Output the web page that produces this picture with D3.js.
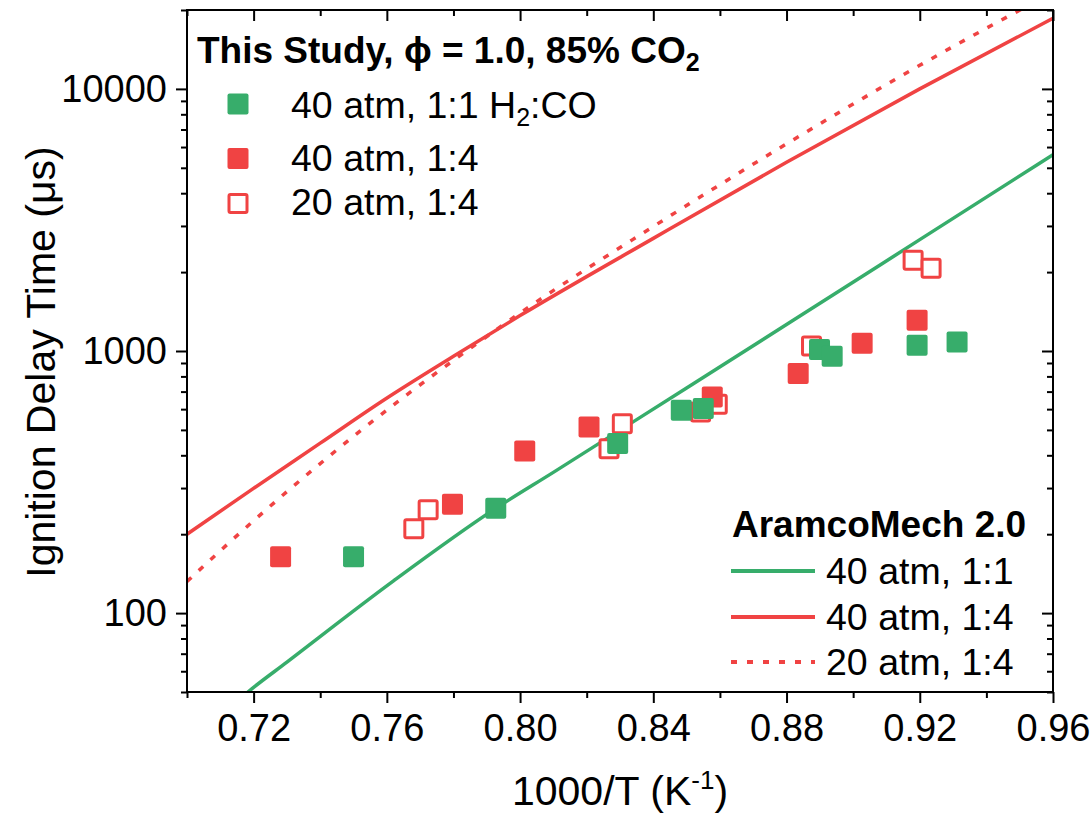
<!DOCTYPE html>
<html>
<head>
<meta charset="utf-8">
<script src="https://cdn.jsdelivr.net/npm/d3@7"></script>
<style>
  body { margin: 0; background: #fff; }
  svg { display: block; }
  text { font-family: "Liberation Sans", Arial, sans-serif; fill: #000; }
</style>
</head>
<body>
<svg id="chart" width="1092" height="817"></svg>
<script>
// ---------- data ----------
const xTicksMajor = [0.72, 0.76, 0.80, 0.84, 0.88, 0.92, 0.96];
const xTicksMinor = [0.70, 0.74, 0.78, 0.82, 0.86, 0.90, 0.94];
const yTicksMajor = [100, 1000, 10000];
const yTicksMinor = [50, 60, 70, 80, 90, 200, 300, 400, 500, 600, 700, 800, 900,
                     2000, 3000, 4000, 5000, 6000, 7000, 8000, 9000, 20000];

// experiments: 40 atm, 1:1 H2:CO
const green40X = [0.7500, 0.7927, 0.8293, 0.8484, 0.8550, 0.8899, 0.8937, 0.9192, 0.9312];
const green40Y = [164, 251, 444, 594, 603, 1014, 955, 1052, 1082];
// experiments: 40 atm, 1:4
const red40X = [0.7281, 0.7797, 0.8014, 0.8207, 0.8577, 0.8835, 0.9027, 0.9192];
const red40Y = [164, 260, 415, 513, 667, 820, 1071, 1309];
// experiments: 20 atm, 1:4 (open)
const red20X = [0.7681, 0.7724, 0.8267, 0.8307, 0.8542, 0.8592, 0.8875, 0.9180, 0.9234];
const red20Y = [210, 248, 424, 528, 585, 627, 1045, 2218, 2070];

// AramcoMech 2.0 simulations
const simGreen40X = [0.715, 0.7183, 0.73, 0.7621, 0.7927, 0.8101, 0.85, 0.882, 0.92, 0.96];
const simGreen40Y = [46, 50, 65, 133, 251, 345, 723, 1309, 2660, 5613];
const simRed40X = [0.70, 0.7191, 0.74, 0.759, 0.78, 0.80, 0.84, 0.88, 0.92, 0.96];
const simRed40Y = [200, 294, 445, 649, 955, 1365, 2690, 5250, 10000, 18600];
const simRed20X = [0.70, 0.7191, 0.7626, 0.785, 0.80, 0.84, 0.88, 0.92, 0.96];
const simRed20Y = [132, 220, 631, 1023, 1396, 2985, 6170, 12300, 23400];

// ---------- layout ----------
const GREEN = "#37ad6b", RED = "#f04343";
const L = 187, R = 1053, T = 10, B = 692;
const FS_TICK = 38, FS_LEG = 37.5, FS_TITLE = 41;

const svg = d3.select("#chart");
const x = d3.scaleLinear().domain([0.70, 0.96]).range([L, R]);
const y = d3.scaleLog().domain([50, 20000]).range([B, T]);

svg.append("defs").append("clipPath").attr("id", "clip")
  .append("rect").attr("x", L).attr("y", T).attr("width", R - L).attr("height", B - T);

// ---------- model lines ----------
const lineGen = d3.line().x(d => x(d[0])).y(d => y(d[1])).curve(d3.curveMonotoneX);
const plot = svg.append("g").attr("clip-path", "url(#clip)");
plot.append("path").datum(d3.zip(simGreen40X, simGreen40Y)).attr("d", lineGen)
  .attr("fill", "none").attr("stroke", GREEN).attr("stroke-width", 3.5);
plot.append("path").datum(d3.zip(simRed40X, simRed40Y)).attr("d", lineGen)
  .attr("fill", "none").attr("stroke", RED).attr("stroke-width", 3.5);
plot.append("path").datum(d3.zip(simRed20X, simRed20Y)).attr("d", lineGen)
  .attr("fill", "none").attr("stroke", RED).attr("stroke-width", 3.5)
  .attr("stroke-dasharray", "6,10");

// ---------- markers ----------
const S = 21;
plot.selectAll(".open").data(d3.zip(red20X, red20Y)).join("rect")
  .attr("x", d => x(d[0]) - S / 2 + 1.5).attr("y", d => y(d[1]) - S / 2 + 1.5)
  .attr("width", S - 3).attr("height", S - 3).attr("rx", 1.5)
  .attr("fill", "#fff").attr("stroke", RED).attr("stroke-width", 3);
plot.selectAll(".r40").data(d3.zip(red40X, red40Y)).join("rect")
  .attr("x", d => x(d[0]) - S / 2).attr("y", d => y(d[1]) - S / 2)
  .attr("width", S).attr("height", S).attr("rx", 2).attr("fill", RED);
plot.selectAll(".g40").data(d3.zip(green40X, green40Y)).join("rect")
  .attr("x", d => x(d[0]) - S / 2).attr("y", d => y(d[1]) - S / 2)
  .attr("width", S).attr("height", S).attr("rx", 2).attr("fill", GREEN);

// ---------- axes ----------
function styleAxis(g) {
  g.select(".domain").remove();
  g.selectAll(".tick line").attr("stroke", "#000").attr("stroke-width", 2);
  g.selectAll("text").style("font-size", FS_TICK + "px").style("font-family", '"Liberation Sans", Arial, sans-serif');
}
const fmtX = d3.format(".2f");
svg.append("g").attr("transform", `translate(0,${B})`)
  .call(d3.axisBottom(x).tickValues(xTicksMajor).tickFormat(fmtX).tickSize(11).tickPadding(11))
  .call(styleAxis);
svg.append("g").attr("transform", `translate(0,${B})`)
  .call(d3.axisBottom(x).tickValues(xTicksMinor).tickFormat("").tickSize(6)).call(styleAxis);
svg.append("g").attr("transform", `translate(0,${T})`)
  .call(d3.axisBottom(x).tickValues(xTicksMajor).tickFormat("").tickSize(11)).call(styleAxis);
svg.append("g").attr("transform", `translate(0,${T})`)
  .call(d3.axisBottom(x).tickValues(xTicksMinor).tickFormat("").tickSize(6)).call(styleAxis);

svg.append("g").attr("transform", `translate(${L},0)`)
  .call(d3.axisLeft(y).tickValues(yTicksMajor).tickFormat(d3.format("d")).tickSize(11).tickPadding(9))
  .call(styleAxis);
svg.append("g").attr("transform", `translate(${L},0)`)
  .call(d3.axisLeft(y).tickValues(yTicksMinor).tickFormat("").tickSize(6)).call(styleAxis);
svg.append("g").attr("transform", `translate(${R},0)`)
  .call(d3.axisLeft(y).tickValues(yTicksMajor).tickFormat("").tickSize(11)).call(styleAxis);
svg.append("g").attr("transform", `translate(${R},0)`)
  .call(d3.axisLeft(y).tickValues(yTicksMinor).tickFormat("").tickSize(6)).call(styleAxis);

// frame
svg.append("rect").attr("x", L).attr("y", T).attr("width", R - L).attr("height", B - T)
  .attr("fill", "none").attr("stroke", "#000").attr("stroke-width", 2);

// axis titles
const xt = svg.append("text").attr("x", (L + R) / 2).attr("y", 805)
  .attr("text-anchor", "middle").style("font-size", FS_TITLE + "px");
xt.append("tspan").text("1000/T (K");
xt.append("tspan").text("-1").style("font-size", "26px").attr("dy", -16);
xt.append("tspan").text(")").attr("dy", 16);

svg.append("text").attr("transform", `translate(55,${(T + B) / 2 + 11}) rotate(-90)`)
  .attr("text-anchor", "middle").style("font-size", FS_TITLE + "px")
  .text("Ignition Delay Time (μs)");

// ---------- legend 1 ----------
const lg1 = svg.append("g");
const t1 = lg1.append("text").attr("x", 197).attr("y", 63)
  .style("font-size", "37px").style("font-weight", "bold");
t1.append("tspan").text("This Study, ϕ = 1.0, 85% CO");
t1.append("tspan").text("2").style("font-size", "25px").attr("dy", 8);

const legItems = [
  { type: "g", cy: 104 },
  { type: "r", cy: 158.5 },
  { type: "o", cy: 203.5 }
];
legItems.forEach(it => {
  if (it.type === "o") {
    lg1.append("rect").attr("x", 238 - S / 2 + 1.5).attr("y", it.cy - S / 2 + 1.5)
      .attr("width", S - 3).attr("height", S - 3).attr("rx", 1.5)
      .attr("fill", "#fff").attr("stroke", RED).attr("stroke-width", 3);
  } else {
    lg1.append("rect").attr("x", 238 - S / 2).attr("y", it.cy - S / 2)
      .attr("width", S).attr("height", S).attr("rx", 2)
      .attr("fill", it.type === "g" ? GREEN : RED);
  }
});
const e1 = lg1.append("text").attr("x", 291).attr("y", 118).style("font-size", FS_LEG + "px");
e1.append("tspan").text("40 atm, 1:1 H");
e1.append("tspan").text("2").style("font-size", "25px").attr("dy", 8);
e1.append("tspan").text(":CO").attr("dy", -8);
lg1.append("text").attr("x", 291).attr("y", 171).style("font-size", FS_LEG + "px").text("40 atm, 1:4");
lg1.append("text").attr("x", 291).attr("y", 215).style("font-size", FS_LEG + "px").text("20 atm, 1:4");

// ---------- legend 2 ----------
const lg2 = svg.append("g");
lg2.append("text").attr("x", 732).attr("y", 537)
  .style("font-size", "37px").style("font-weight", "bold").text("AramcoMech 2.0");
const leg2 = [
  { c: GREEN, dash: null, ly: 571, by: 584, label: "40 atm, 1:1" },
  { c: RED, dash: null, ly: 617, by: 630, label: "40 atm, 1:4" },
  { c: RED, dash: "6,10", ly: 662, by: 675, label: "20 atm, 1:4" }
];
leg2.forEach(it => {
  const ln = lg2.append("line").attr("x1", 731).attr("x2", 815).attr("y1", it.ly).attr("y2", it.ly)
    .attr("stroke", it.c).attr("stroke-width", 4);
  if (it.dash) ln.attr("stroke-dasharray", it.dash);
  lg2.append("text").attr("x", 826).attr("y", it.by).style("font-size", FS_LEG + "px").text(it.label);
});
</script>
</body>
</html>
